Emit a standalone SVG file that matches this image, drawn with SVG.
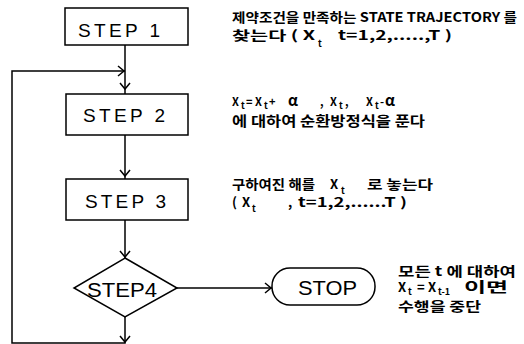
<svg xmlns="http://www.w3.org/2000/svg" width="524" height="344" viewBox="0 0 524 344">
<style>
.shape{fill:#fff;stroke:#000;stroke-width:1.5}
.ln{fill:none;stroke:#000;stroke-width:1.5}
.lbl{font-family:"Liberation Sans",sans-serif;font-size:19px;fill:#000}
.d{font-family:"Noto Sans CJK KR",sans-serif;font-weight:bold;font-size:13px;fill:#000}
.s{font-size:9px}
</style>
<defs>
<path id="chev" d="M-5,-6 L0,0 L5,-6" fill="none" stroke="#000" stroke-width="1.5"/>
</defs>
<rect width="524" height="344" fill="#fff"/>
<g id="connectors">
<path class="ln" d="M125,45 V94"/>
<path class="ln" d="M125,135 V179"/>
<path class="ln" d="M125,220 V258"/>
<path class="ln" d="M125,317 V343 H12 V71 H125"/>
<path class="ln" d="M177,288 H272"/>
<use href="#chev" transform="translate(125,89)"/>
<use href="#chev" transform="translate(125,176)"/>
<use href="#chev" transform="translate(125,257)"/>
<use href="#chev" transform="translate(125,342)"/>
<use href="#chev" transform="translate(124,71) rotate(-90)"/>
<use href="#chev" transform="translate(271,288) rotate(-90)"/>
</g>
<g id="step1">
<rect class="shape" x="65" y="8" width="123" height="37"/>
<text class="lbl" x="78" y="37" textLength="82" lengthAdjust="spacing">STEP 1</text>
</g>
<g id="step2">
<rect class="shape" x="66" y="94" width="122" height="41"/>
<text class="lbl" x="83" y="122" textLength="82" lengthAdjust="spacing">STEP 2</text>
</g>
<g id="step3">
<rect class="shape" x="66" y="179" width="122" height="41"/>
<text class="lbl" x="85" y="208" textLength="81" lengthAdjust="spacing">STEP 3</text>
</g>
<g id="step4">
<polygon class="shape" points="125,258 177,288 125,317 74,288"/>
<text class="lbl" x="87" y="297" style="font-size:20px" textLength="70" lengthAdjust="spacingAndGlyphs">STEP4</text>
</g>
<g id="stop">
<rect class="shape" x="272" y="268" width="103" height="37" rx="18"/>
<text class="lbl" x="298" y="295" style="font-size:21px" textLength="59" lengthAdjust="spacingAndGlyphs">STOP</text>
</g>
<g id="note1">
<text class="d" x="232" y="22" textLength="285" lengthAdjust="spacingAndGlyphs">제약조건을 만족하는 STATE TRAJECTORY 를</text>
<text class="d" y="40"><tspan x="232" textLength="83" lengthAdjust="spacingAndGlyphs">찾는다 ( X</tspan><tspan x="318" dy="7" class="s">t</tspan><tspan x="338" dy="-7" textLength="114" lengthAdjust="spacingAndGlyphs">t=1,2,.....,T )</tspan></text>
</g>
<g id="note2">
<text class="d" style="font-size:11px" y="106"><tspan x="232">X</tspan><tspan x="241" dy="3" class="s">t</tspan><tspan x="246" dy="-3">=</tspan><tspan x="255">X</tspan><tspan x="264" dy="3" class="s">t</tspan><tspan x="269" dy="-3">+</tspan><tspan x="288" style="font-size:15px">α</tspan><tspan x="320">,</tspan><tspan x="330">X</tspan><tspan x="339" dy="3" class="s">t</tspan><tspan x="345" dy="-3">,</tspan><tspan x="366">X</tspan><tspan x="375" dy="3" class="s">t</tspan><tspan x="380" dy="-3">-</tspan><tspan x="385" style="font-size:15px">α</tspan></text>
<text class="d" style="font-size:14px" x="232" y="126" textLength="193" lengthAdjust="spacingAndGlyphs">에 대하여 순환방정식을 푼다</text>
</g>
<g id="note3">
<text class="d" y="189"><tspan x="232" textLength="83" lengthAdjust="spacingAndGlyphs">구하여진 해를</tspan><tspan x="341" dy="5" class="s">t</tspan><tspan x="330" dy="-5">X</tspan><tspan x="367" textLength="66" lengthAdjust="spacingAndGlyphs">로 놓는다</tspan></text>
<text class="d" y="207"><tspan x="232">(</tspan><tspan x="242">X</tspan><tspan x="252" dy="5" class="s">t</tspan><tspan x="288" dy="-5">,</tspan><tspan x="298" textLength="109" lengthAdjust="spacingAndGlyphs">t=1,2,......T )</tspan></text>
</g>
<g id="note4">
<text class="d" x="398" y="276" textLength="118" lengthAdjust="spacingAndGlyphs">모든 t 에 대하여</text>
<text class="d" y="292"><tspan x="398">X</tspan><tspan x="408" dy="3" class="s">t</tspan><tspan x="417" dy="-3">=</tspan><tspan x="428">X</tspan><tspan x="438" dy="3" class="s">t-1</tspan><tspan x="464" dy="-3" style="font-size:14px" textLength="44" lengthAdjust="spacingAndGlyphs">이면</tspan></text>
<text class="d" x="398" y="311" textLength="83" lengthAdjust="spacingAndGlyphs">수행을 중단</text>
</g>
</svg>
